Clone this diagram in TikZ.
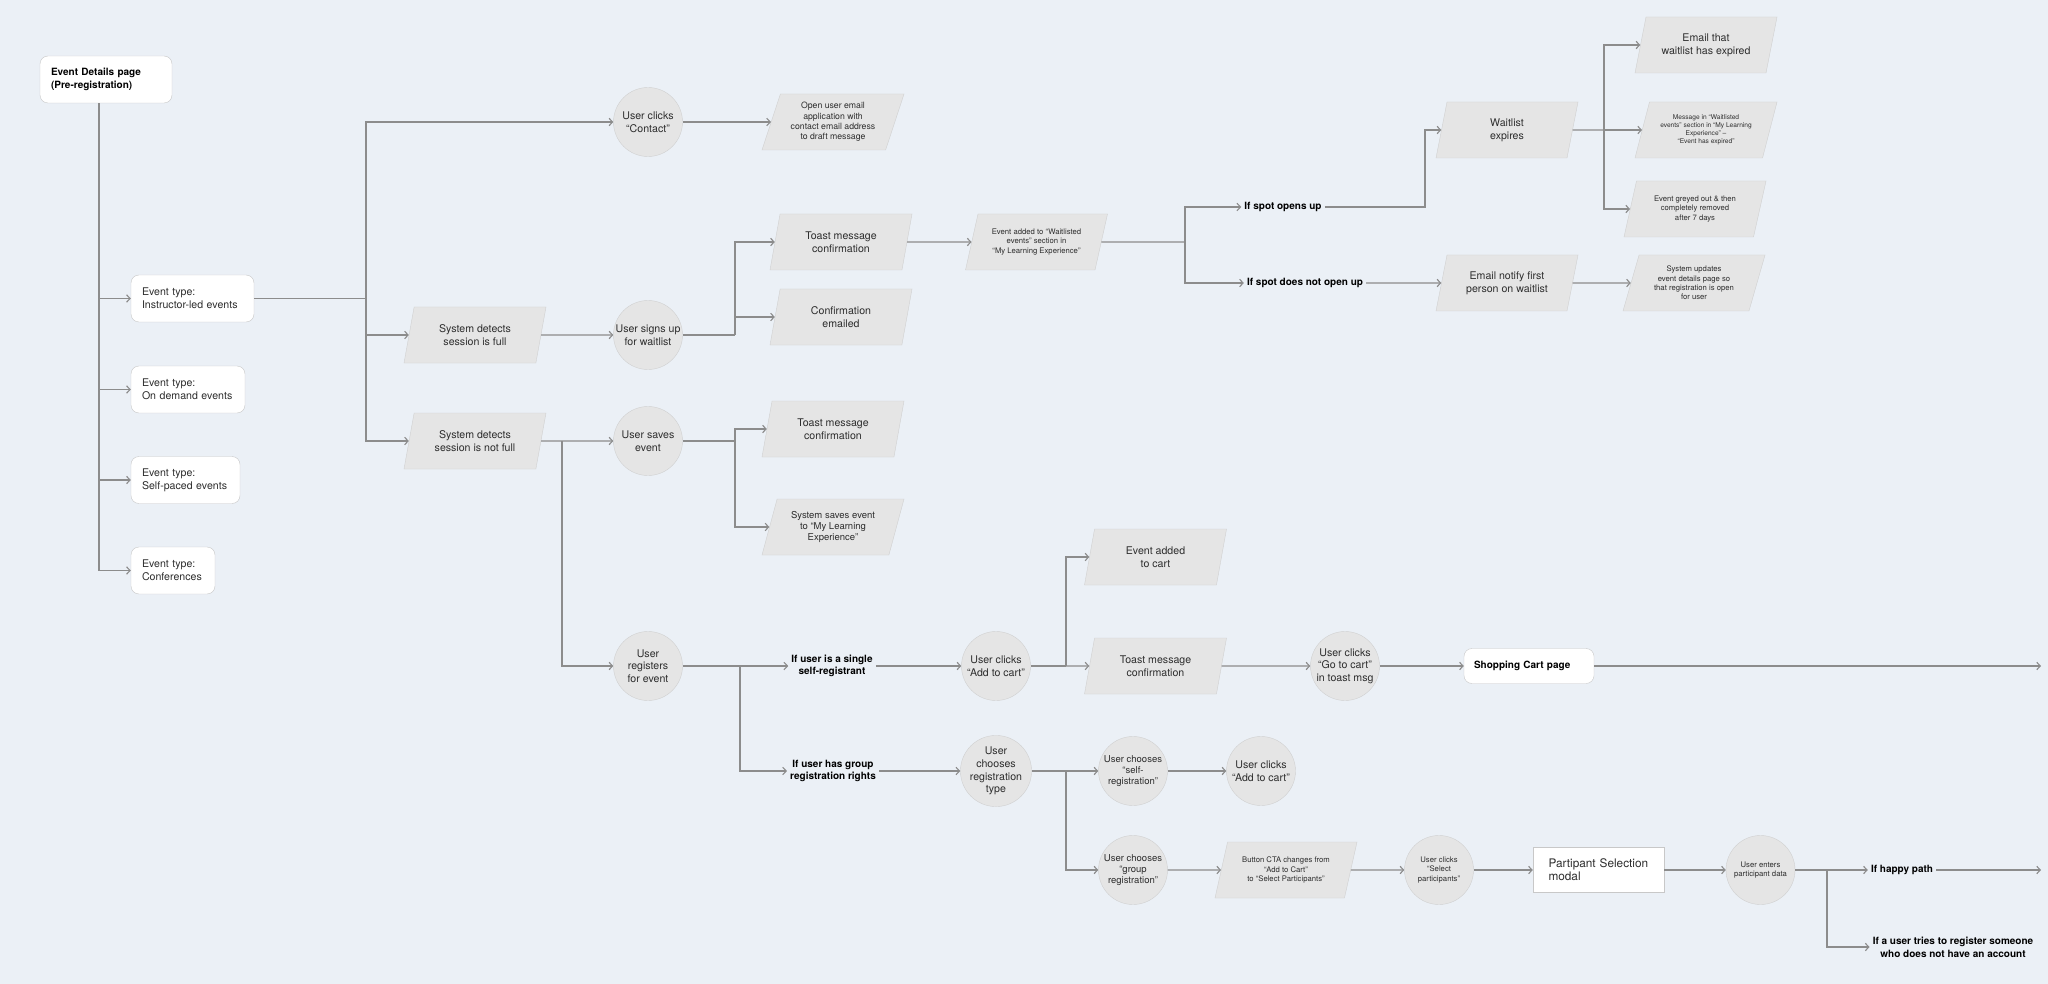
\documentclass[tikz,border=0pt]{standalone}
\usepackage{fontspec}
\setmainfont{TeX Gyre Heros}
\usepackage{tikz}
\usetikzlibrary{shapes.geometric,arrows.meta}
\usepackage{xcolor}
\definecolor{canvas}{RGB}{235,240,246}
\definecolor{shapefill}{RGB}{229,229,229}
\definecolor{shapeline}{RGB}{208,208,208}
\definecolor{boxline}{RGB}{200,200,200}
\definecolor{linegray}{RGB}{140,140,140}
\definecolor{inkgray}{RGB}{45,45,45}
\newcommand{\fzmain}{\fontsize{10.6}{12.7}\selectfont}
\newcommand{\fzlabel}{\fontsize{10}{12.7}\selectfont\bfseries}
\newcommand{\fznine}{\fontsize{9.5}{11.4}\selectfont}
\newcommand{\fzeight}{\fontsize{8.7}{10.3}\selectfont}
\newcommand{\fzseven}{\fontsize{7.7}{9.4}\selectfont}
\newcommand{\fzsix}{\fontsize{6.6}{8.1}\selectfont}
\newcommand{\fzmodal}{\fontsize{11.8}{13.3}\selectfont}

\begin{document}
\begin{tikzpicture}[x=1pt,y=-1pt,
  page/.style={draw=boxline,fill=white,rounded corners=8pt,align=left,inner xsep=11pt,minimum height=47pt,text=inkgray,font=\fzmain},
  act/.style={circle,draw=shapeline,fill=shapefill,minimum size=69pt,inner sep=0pt,align=center,text=inkgray,font=\fzmain},
  io/.style={trapezium,trapezium left angle=66,trapezium right angle=114,trapezium stretches body=true,draw=shapeline,fill=shapefill,minimum width=142pt,minimum height=56pt,inner xsep=0pt,inner ysep=1pt,align=center,text=inkgray,font=\fzmain},
  cond/.style={align=center,inner sep=3pt,text=black,font=\fzlabel},
  link/.style={draw=linegray,line width=1.1pt},
  flow/.style={link,-{Straight Barb[length=3.5pt,width=7.5pt]}}]
\fill[canvas] (0,0) rectangle (2048,984);
\useasboundingbox (0,0) rectangle (2048,984);

\node[page,text width=110pt,font=\fzlabel,text=black] (edp) at (106,79.5) {Event Details page\\(Pre-registration)};
\node[page,text width=101pt] (ilt)  at (192.5,298.5) {Event type:\\Instructor-led events};
\node[page,text width=92pt]  (ode)  at (188,389.5) {Event type:\\On demand events};
\node[page,text width=87pt]  (spe)  at (185.5,480) {Event type:\\Self-paced events};
\node[page,text width=62pt]  (conf) at (173,570.5) {Event type:\\Conferences};

\node[io] (full)    at (475,335) {System detects\\session is full};
\node[io] (notfull) at (475,441) {System detects\\session is not full};

\node[act] (contact) at (648,122) {User clicks\\“Contact”};
\node[act] (signup)  at (648,335) {User signs up\\for waitlist};
\node[act] (saves)   at (648,441) {User saves\\event};
\node[act] (registers) at (648,666) {User\\registers\\for event};

\node[io,font=\fzeight] (openmail) at (833,122) {Open user email\\application with\\contact email address\\to draft message};
\node[io] (toastwl)  at (841,242) {Toast message\\confirmation};
\node[io] (confmail) at (841,317) {Confirmation\\emailed};
\node[io,font=\fzseven] (wladded) at (1036.5,242) {Event added to “Waitlisted\\events” section in\\“My Learning Experience”};
\node[io] (toastsv)  at (833,429) {Toast message\\confirmation};
\node[io,font=\fznine] (syssave) at (833,527) {System saves event\\to “My Learning\\Experience”};

\node[cond] (spotopen) at (1283,207) {If spot opens up};
\node[cond] (spotnot)  at (1305,283) {If spot does not open up};
\node[io] (expires) at (1507,130) {Waitlist\\expires};
\node[io] (notify)  at (1507,283) {Email notify first\\person on waitlist};
\node[io] (expmail) at (1706,45) {Email that\\waitlist has expired};
\node[io,font=\fzsix] (expmsg) at (1706,130) {Message in “Waitlisted\\events” section in “My Learning\\Experience” –\\“Event has expired”};
\node[io,font=\fzseven] (greyed) at (1695,209) {Event greyed out \& then\\completely removed\\after 7 days};
\node[io,font=\fzseven] (sysupd) at (1694,283) {System updates\\event details page so\\that registration is open\\for user};

\node[cond] (single) at (832,666) {If user is a single\\self-registrant};
\node[cond] (group)  at (833,771) {If user has group\\registration rights};
\node[act] (addcart)    at (996,666) {User clicks\\“Add to cart”};
\node[act] (choosetype) at (996,771) {User\\chooses\\registration\\type};
\node[io] (cartadd)   at (1155.5,557) {Event added\\to cart};
\node[io] (toastcart) at (1155.5,666) {Toast message\\confirmation};
\node[act] (gotocart) at (1345,666) {User clicks\\“Go to cart”\\in toast msg};
\node[page,text width=110pt,inner xsep=10pt,minimum height=35pt,font=\fzlabel,text=black] (cart) at (1529,666) {Shopping Cart page};
\coordinate (cartout) at (2041,666);

\node[act,font=\fznine] (chooseself)  at (1133,771) {User chooses\\“self-\\registration”};
\node[act] (addcart2) at (1261,771) {User clicks\\“Add to cart”};
\node[act,font=\fznine] (choosegroup) at (1133,870) {User chooses\\“group\\registration”};
\node[io,font=\fzseven] (ctachg) at (1286,870) {Button CTA changes from\\“Add to Cart”\\to “Select Participants”};
\node[act,font=\fzseven] (selectpart) at (1439,870) {User clicks\\“Select\\participants”};
\node[page,rounded corners=0pt,text width=100pt,inner xsep=15.5pt,minimum height=45pt,font=\fzmodal] (modal) at (1598.5,870) {Partipant Selection\\modal};
\node[act,font=\fzseven] (enters) at (1760.5,870) {User enters\\participant data};
\node[cond] (happy)  at (1902,870) {If happy path};
\node[cond] (noacct) at (1953,947) {If a user tries to register someone\\who does not have an account};
\coordinate (happyout) at (2041,870);

\coordinate (trunk) at (99,0);
\coordinate (jA) at (366,298.5);
\coordinate (jB) at (735,335);
\coordinate (jC) at (1185,242);
\coordinate (jD) at (1425,207);
\coordinate (jE) at (1604,130);
\coordinate (jF) at (735,441);
\coordinate (jG) at (562,441);
\coordinate (jH) at (740,666);
\coordinate (jI) at (1066,666);
\coordinate (jJ) at (1066,771);
\coordinate (jK) at (1827,870);

\foreach \dst in {ilt,ode,spe,conf}
  \draw[flow] (edp.south -| trunk) |- (\dst.west);
\draw[link] (ilt.east) -- (jA);
\foreach \dst in {contact,full,notfull}
  \draw[flow] (jA) |- (\dst.west);
\draw[flow] (contact) -- (openmail);
\draw[flow] (full) -- (signup);
\draw[link] (signup.east) -- (jB);
\draw[flow] (jB) |- (toastwl.west);
\draw[flow] (jB) |- (confmail.west);
\draw[flow] (toastwl) -- (wladded);
\draw[link] (wladded.east) -- (jC);
\draw[flow] (jC) |- (spotopen.west);
\draw[flow] (jC) |- (spotnot.west);
\draw[flow] (spotopen.east) -- (jD) |- (expires.west);
\draw[link] (expires.east) -- (jE);
\foreach \dst in {expmail,expmsg,greyed}
  \draw[flow] (jE) |- (\dst.west);
\draw[flow] (spotnot) -- (notify);
\draw[flow] (notify) -- (sysupd);

\draw[flow] (notfull) -- (saves);
\draw[link] (saves.east) -- (jF);
\draw[flow] (jF) |- (toastsv.west);
\draw[flow] (jF) |- (syssave.west);
\draw[flow] (jG) |- (registers.west);
\draw[link] (registers.east) -- (jH);
\draw[flow] (jH) -- (single.west);
\draw[flow] (jH) |- (group.west);
\draw[flow] (single) -- (addcart);
\draw[flow] (group) -- (choosetype);
\draw[link] (addcart.east) -- (jI);
\draw[flow] (jI) |- (cartadd.west);
\draw[flow] (jI) -- (toastcart.west);
\draw[flow] (toastcart) -- (gotocart);
\draw[flow] (gotocart) -- (cart);
\draw[flow] (cart) -- (cartout);
\draw[link] (choosetype.east) -- (jJ);
\draw[flow] (jJ) -- (chooseself.west);
\draw[flow] (jJ) |- (choosegroup.west);
\draw[flow] (chooseself) -- (addcart2);
\draw[flow] (choosegroup) -- (ctachg);
\draw[flow] (ctachg) -- (selectpart);
\draw[flow] (selectpart) -- (modal);
\draw[flow] (modal) -- (enters);
\draw[link] (enters.east) -- (jK);
\draw[flow] (jK) -- (happy.west);
\draw[flow] (jK) |- (noacct.west);
\draw[flow] (happy) -- (happyout);
\end{tikzpicture}
\end{document}
